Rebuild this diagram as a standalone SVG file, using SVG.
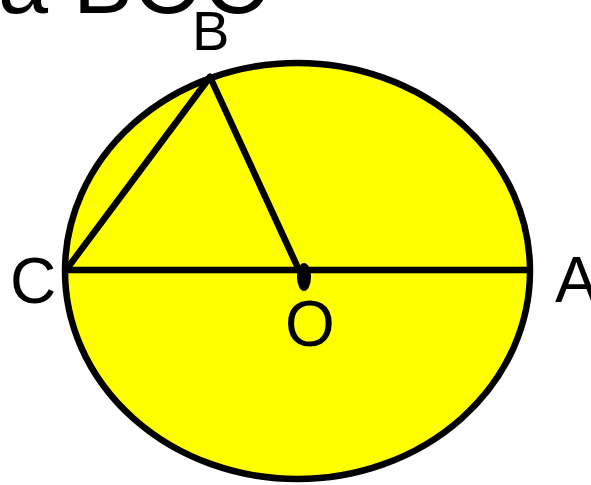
<svg xmlns="http://www.w3.org/2000/svg" width="591" height="485" viewBox="0 0 591 485">
<style>
.t{font-family:"Liberation Sans",Arial,sans-serif;fill:#000}
.ln{stroke:#000;stroke-width:6.5;stroke-linecap:round;fill:none}
</style>
<rect width="591" height="485" fill="#fff"/>
<text class="t" x="-2" y="13" font-size="90">a BOC</text>
<g id="circle">
<ellipse cx="297.5" cy="271" rx="232.5" ry="208" fill="#ffff00" stroke="#000" stroke-width="6.5"/>
</g>
<g id="connectors">
<line class="ln" x1="66" y1="270" x2="529" y2="270"/>
<line class="ln" x1="66" y1="270" x2="210" y2="77"/>
<line class="ln" x1="210" y1="77" x2="298" y2="268"/>
</g>
<g id="O">
<ellipse cx="304" cy="277" rx="7" ry="14" fill="#000"/>
<text class="t" x="285" y="346" font-size="64">O</text>
</g>
<g id="B"><text class="t" x="192" y="50" font-size="56">B</text></g>
<g id="C"><text class="t" x="10" y="303" font-size="64">C</text></g>
<g id="A"><text class="t" x="555" y="302" font-size="64">A</text></g>
</svg>
